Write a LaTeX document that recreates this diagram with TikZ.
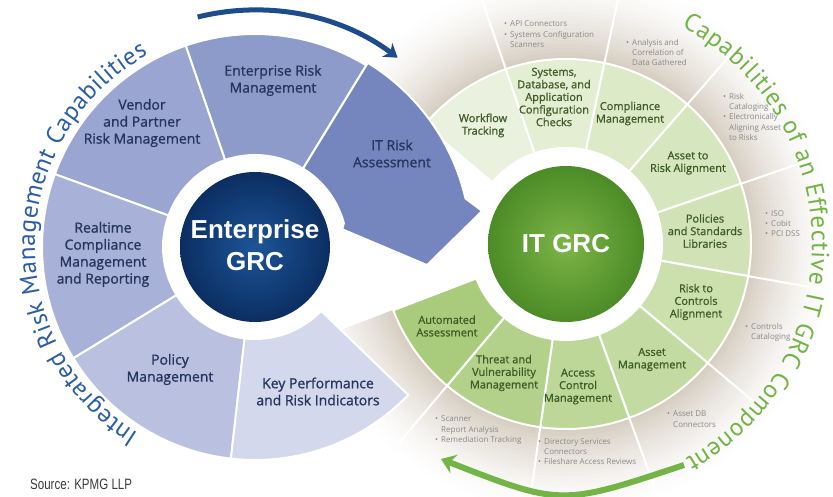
\documentclass[tikz,border=0pt]{standalone}
\usepackage{fontspec}
\usepackage{graphicx}
\setmainfont{Open Sans}
\newfontfamily\headfont{Liberation Sans}
\newfontfamily\arcfont{PT Sans}
\newfontfamily\lblfont{Open Sans}[FakeBold=1.0]
\usetikzlibrary{decorations.text,arrows.meta,calc}

\definecolor{ermc}{HTML}{8D9BCB}
\definecolor{itrc}{HTML}{7586BF}
\definecolor{venc}{HTML}{9AA5D1}
\definecolor{rtc}{HTML}{A8B1D8}
\definecolor{polc}{HTML}{B9C0E0}
\definecolor{kpic}{HTML}{D4D8EC}
\definecolor{bluetext}{HTML}{26355E}
\definecolor{navyin}{HTML}{1D5598}
\definecolor{navyout}{HTML}{0B2E62}
\definecolor{arcblue}{HTML}{2B5EA6}
\definecolor{arrblue}{HTML}{1C4C8C}
\definecolor{ga}{HTML}{EAF2DF}
\definecolor{gb}{HTML}{E3EED3}
\definecolor{gc}{HTML}{DCEAC8}
\definecolor{gd}{HTML}{D6E6BE}
\definecolor{ge}{HTML}{D1E3B6}
\definecolor{gf}{HTML}{CBE0AD}
\definecolor{gg}{HTML}{C3DBA2}
\definecolor{gh}{HTML}{BCD797}
\definecolor{gi}{HTML}{B3D18A}
\definecolor{gj}{HTML}{A8CB7C}
\definecolor{greentext}{HTML}{3F5B27}
\definecolor{grcin}{HTML}{7DB548}
\definecolor{grcout}{HTML}{4C8B26}
\definecolor{arcgreen}{HTML}{72B446}
\definecolor{ringc}{HTML}{D6CEC1}
\definecolor{bulgrey}{HTML}{8A8A8A}
\definecolor{srcgrey}{HTML}{3A3A3A}

\newcommand\annsec[5]{($(#1)+(#2:#4)$) arc[start angle=#2, end angle=#3, radius=#4] -- ($(#1)+(#3:#5)$) arc[start angle=#3, end angle=#2, radius=#5] -- cycle}
\newcommand\bltpt{\makebox[6pt][l]{\textbullet}}
\newcommand\blind{\hspace*{6pt}}

\begin{document}
\begin{tikzpicture}[x=1pt,y=1pt,
  seg/.style={draw=white, line width=2pt},
  bl/.style={font=\lblfont\fontsize{14}{17}\selectfont, text=bluetext, align=center, inner sep=0pt},
  gl/.style={font=\lblfont\fontsize{11}{12.6}\selectfont, text=greentext, align=center, inner sep=0pt},
  bul/.style={font=\fontsize{8}{10.3}\selectfont, text=bulgrey, align=left, anchor=north west, inner sep=0pt},
  hub/.style={font=\headfont\bfseries\fontsize{26}{32}\selectfont, text=white, align=center, inner sep=0pt}]
\useasboundingbox (0,0) rectangle (833,496);
\fill[white] (0,0) rectangle (833,496);

% ---------------- right wheel
\coordinate (R) at (566,252);
\begin{scope}
  \clip \annsec{R}{-159}{140}{185}{272};
  \foreach \i in {0,...,22} {
    \pgfmathsetmacro\rr{272-4*\i}
    \pgfmathsetmacro\pp{min(100,100*(\i/21)^1.5)}
    \fill[ringc!\pp!white] (R) circle[radius=\rr];
  }
\end{scope}
\foreach \a in {109,78,49,19,-10,-40,-70,-98,-130}
  \draw[white, line width=2pt] ($(R)+(\a:185)$) -- ($(R)+(\a:262)$);

\fill[ga, seg] \annsec{R}{109}{140}{96}{185};
\fill[gb, seg] \annsec{R}{78}{109}{96}{185};
\fill[gc, seg] \annsec{R}{49}{78}{96}{185};
\fill[gd, seg] \annsec{R}{19}{49}{96}{185};
\fill[ge, seg] \annsec{R}{-10}{19}{96}{185};
\fill[gf, seg] \annsec{R}{-40}{-10}{96}{185};
\fill[gg, seg] \annsec{R}{-70}{-40}{96}{185};
\fill[gh, seg] \annsec{R}{-98}{-70}{96}{185};
\fill[gi, seg] \annsec{R}{-130}{-98}{96}{185};
\fill[gj, seg] \annsec{R}{-159}{-130}{96}{185};

\shade[inner color=grcin, outer color=grcout] (R) circle[radius=78];
\node[hub] (itgrc) at (R) {IT GRC};

% ---------------- left wheel
\coordinate (L) at (255,249);
\fill[ermc, seg] \annsec{L}{58.5}{109}{92}{213};
\fill[venc, seg] \annsec{L}{109}{160}{92}{213};
\fill[rtc, seg] \annsec{L}{160}{211.5}{92}{213};
\fill[polc, seg] \annsec{L}{211.5}{263.5}{92}{213};
\fill[kpic, seg] \annsec{L}{263.5}{316}{92}{213};
\fill[itrc, seg] ($(L)+(58.5:216)$) arc[start angle=58.5, end angle=13, radius=216]
   -- ($(L)+(9:230)$) -- ($(L)+(-6:173)$) -- ($(L)+(11.5:89)$) -- ($(L)+(15:92)$)
   arc[start angle=15, end angle=58.5, radius=92] -- cycle;

\shade[inner color=navyin, outer color=navyout] (L) circle[radius=75];
\node[hub] (egrc) at (255,250.5) {Enterprise\\GRC};

% blue labels
\node[bl] (erm) at (273,415.5) {Enterprise Risk\\Management};
\node[bl] (vendor) at (142,373) {Vendor\\and Partner\\Risk Management};
\node[bl] (itrisk) at (392,342.5) {IT Risk\\Assessment};
\node[bl] (realtime) at (103,241.5) {Realtime\\Compliance\\Management\\and Reporting};
\node[bl] (policy) at (170,126.5) {Policy\\Management};
\node[bl] (kpi) at (318,104.5) {Key Performance\\and Risk Indicators};

% green labels
\node[gl] (workflow) at (483,370.5) {Workflow\\Tracking};
\node[gl] (systems) at (554,399) {Systems,\\Database, and\\Application\\Configuration\\Checks};
\node[gl] (compliance) at (630,382.5) {Compliance\\Management};
\node[gl] (assetrisk) at (688,333) {Asset to\\Risk Alignment};
\node[gl] (policies) at (705,265) {Policies\\and Standards\\Libraries};
\node[gl] (riskctrl) at (696,194) {Risk to\\Controls\\Alignment};
\node[gl] (assetmgmt) at (652,136.5) {Asset\\Management};
\node[gl] (access) at (578,109.5) {Access\\Control\\Management};
\node[gl] (threat) at (504,123) {Threat and\\Vulnerability\\Management};
\node[gl] (automated) at (447,170) {Automated\\Assessment};

% bullets
\node[bul] (bapi) at (504,475) {\bltpt API Connectors\\\bltpt Systems Configuration\\\blind Scanners};
\node[bul] (bana) at (626,457) {\bltpt Analysis and\\\blind Correlation of\\\blind Data Gathered};
\node[bul] (brisk) at (723,403) {\bltpt Risk\\\blind Cataloging\\\bltpt Electronically\\\blind Aligning Asset\\\blind to Risks};
\node[bul] (biso) at (765,286) {\bltpt ISO\\\bltpt Cobit\\\bltpt PCI DSS};
\node[bul] (bctrl) at (745,173) {\bltpt Controls\\\blind Cataloging};
\node[bul] (bdb) at (667,85) {\bltpt Asset DB\\\blind Connectors};
\node[bul] (bscan) at (435,80) {\bltpt Scanner\\\blind Report Analysis\\\bltpt Remediation Tracking};
\node[bul] (bdir) at (538,58) {\bltpt Directory Services\\\blind Connectors\\\bltpt Fileshare Access Reviews};

% curved titles
\path[decorate, decoration={text along path, text={|\arcfont\fontsize{25}{25}\selectfont\color{arcblue}|Integrated Risk Management Capabilities}, text align={fit to path}}]
  ($(L)+(238:220)$) arc[start angle=238, end angle=119, radius=220];
\path[decorate, decoration={text along path, text={|\arcfont\fontsize{25}{25}\selectfont\color{arcgreen}|Capabilities of an Effective IT GRC Component}, text align={fit to path}}]
  ($(R)+(62:246)$) arc[start angle=62, end angle=-61, radius=246];

% arrows
\coordinate (barrS) at ($(L)+(104:237)$);
\draw[arrblue, line width=5pt, -{Stealth[length=13pt,width=17pt,inset=4pt]}] (barrS) arc[start angle=104, end angle=53, radius=237];
\coordinate (garrS) at (684,31);
\coordinate (garrE) at (441,37);
\draw[arcgreen, line width=6pt, -{Stealth[length=14pt,width=20pt,inset=5pt]}] (garrS) .. controls (561,-10) .. (garrE);

% source
\node[anchor=west, font=\headfont\fontsize{15}{15}\selectfont, text=srcgrey, inner sep=0pt] (src) at (30,12) {\scalebox{0.77}[1]{Source: KPMG LLP}};
\end{tikzpicture}
\end{document}
